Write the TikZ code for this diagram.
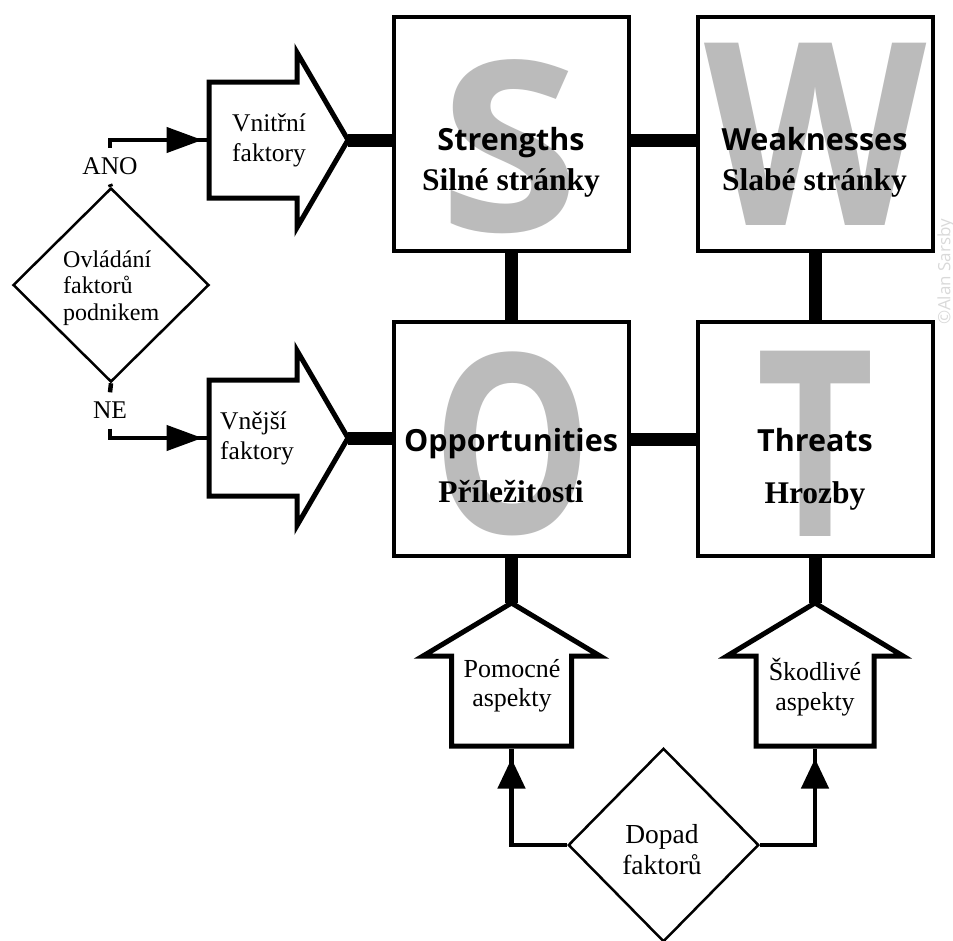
\documentclass[tikz,border=0pt]{standalone}
\usepackage{fontspec}
\usepackage{graphicx}
\setmainfont{Liberation Serif}
\newfontfamily\labelsans{Open Sans}
\usetikzlibrary{shapes.geometric, arrows.meta, decorations.markings}
\definecolor{letgray}{HTML}{BBBBBB}

\begin{document}
\begin{tikzpicture}[x=1pt, y=-1pt,
  swotbox/.style={draw, line width=4pt, fill=white, minimum width=235pt, minimum height=234pt, inner sep=0pt},
  bigletter/.style={inner sep=0pt, text=letgray},
  entitle/.style={font=\fontsize{30.5}{31}\labelsans\bfseries\selectfont, anchor=base, inner sep=0pt},
  cztitle/.style={font=\fontsize{31.5}{32}\selectfont\bfseries, anchor=base, inner sep=0pt},
  bus/.style={line width=13pt},
  blockarrow/.style={draw, line width=5pt, fill=white, line join=miter},
  flow/.style={line width=4.5pt, postaction={decorate},
    decoration={markings, mark=at position -4pt with {\arrow{Triangle[length=36pt,width=25pt]}}}},
  flowup/.style={line width=4.5pt, postaction={decorate},
    decoration={markings, mark=at position -10pt with {\arrow{Triangle[length=30pt,width=27pt]}}}},
  decision/.style={draw, diamond, line width=2.5pt, inner sep=0pt, fill=white},
  caption/.style={font=\fontsize{25.5}{30}\selectfont, inner sep=0pt},
]
\useasboundingbox (0,0) rectangle (953,940);

% ---- the four SWOT quadrants ----
\node[swotbox] (S) at (511.5,134) {};
\node[swotbox] (W) at (815,134) {};
\node[swotbox] (O) at (511.5,439) {};
\node[swotbox] (T) at (815,439) {};

\node[bigletter] (bigS) at (510,147) {\resizebox*{140pt}{174pt}{\labelsans\bfseries S}};
\node[bigletter] (bigW) at (815.5,134) {\resizebox*{222pt}{182pt}{\labelsans\bfseries W}};
\node[bigletter] (bigO) at (512.5,443.5) {\resizebox*{160pt}{184pt}{\labelsans\bfseries O}};
\node[bigletter] (bigT) at (816,443.5) {\resizebox*{118pt}{185pt}{\labelsans\bfseries T}};

\node[entitle] (Sen) at (511,150) {Strengths};
\node[cztitle] (Scz) at (511,190) {Silné stránky};
\node[entitle] (Wen) at (814.5,150) {Weaknesses};
\node[cztitle] (Wcz) at (814.5,190) {Slabé stránky};
\node[entitle] (Oen) at (511,451) {Opportunities};
\node[cztitle] (Ocz) at (511,502) {Příležitosti};
\node[entitle] (Ten) at (815,451) {Threats};
\node[cztitle] (Tcz) at (815,503) {Hrozby};

% ---- thick links between the quadrants ----
\coordinate (row1) at (0,140);
\draw[bus] (S.east |- row1) -- (W.west |- row1);
\draw[bus] (O.east) -- (T.west);
\draw[bus] (S.south) -- (O.north);
\draw[bus] (W.south) -- (T.north);

% ---- block arrows on the left ----
\draw[blockarrow] (209,82) -- (297,82) -- (297,52.5) -- (348,140) -- (297,227.5) -- (297,198) -- (209,198) -- cycle;
\coordinate (vin-tail) at (206.5,140);
\coordinate (vin-tip) at (348,140);
\draw[blockarrow] (209,380) -- (297,380) -- (297,350.5) -- (348,438) -- (297,525.5) -- (297,496) -- (209,496) -- cycle;
\coordinate (vex-tail) at (206.5,438);
\coordinate (vex-tip) at (348,438);
\draw[bus] (vin-tip) -- (S.west |- vin-tip);
\draw[bus] (vex-tip) -- (O.west |- vex-tip);
\node[caption, align=left, anchor=west] (vintext) at (232,140) {Vnitřní\\faktory};
\node[caption, align=left, anchor=west] (vextext) at (220,438) {Vnější\\faktory};

% ---- block arrows at the bottom ----
\draw[blockarrow] (451.5,746) -- (451.5,656) -- (423,656) -- (511.5,603) -- (600,656) -- (571.5,656) -- (571.5,746) -- cycle;
\coordinate (pom-tip) at (511.5,603);
\coordinate (pom-tail) at (511.5,748.5);
\draw[blockarrow] (756,746) -- (756,656) -- (727,656) -- (815,603) -- (903,656) -- (874,656) -- (874,746) -- cycle;
\coordinate (sko-tip) at (815,603);
\coordinate (sko-tail) at (815,748.5);
\draw[bus] (O.south) -- (pom-tip);
\draw[bus] (T.south) -- (sko-tip);
\node[caption, align=center, font=\fontsize{26}{29.5}\selectfont] (pomtext) at (512,686) {Pomocné\\aspekty};
\node[caption, align=center, font=\fontsize{26}{29.5}\selectfont] (skotext) at (815,687) {Škodlivé\\aspekty};

% ---- decision: control by the company ----
\node[decision, minimum width=196pt, minimum height=194pt] (ctrl) at (111,285) {};
\node[font=\fontsize{24}{26.5}\selectfont, align=left, anchor=west, inner sep=0pt] (ctrltext) at (63,288) {Ovládání\\faktorů\\podnikem};
\node[caption, minimum height=36pt] (ano) at (110,166) {ANO};
\node[caption, minimum height=36pt] (ne) at (110,410.5) {NE};
\draw[line width=4.5pt] (ctrl.north) -- (ano.south);
\draw[line width=4.5pt] (ctrl.south) -- (ne.north);
\draw[flow] (ano.north) |- (vin-tail);
\draw[flow] (ne.south) |- (vex-tail);

% ---- decision: impact of the factors ----
\node[decision, minimum width=190.5pt, minimum height=193.5pt] (dop) at (663.5,845) {};
\node[font=\fontsize{27.5}{31}\selectfont, align=center, inner sep=0pt] (doptext) at (662,850) {Dopad\\faktorů};
\draw[flowup] (dop.west) -| (pom-tail);
\draw[flowup] (dop.east) -| (sko-tail);

% ---- credit line ----
\node[rotate=90, text=black!15, font=\fontsize{17}{17}\labelsans\selectfont, inner sep=0pt] (credit) at (946,272) {©Alan Sarsby};
\end{tikzpicture}
\end{document}
